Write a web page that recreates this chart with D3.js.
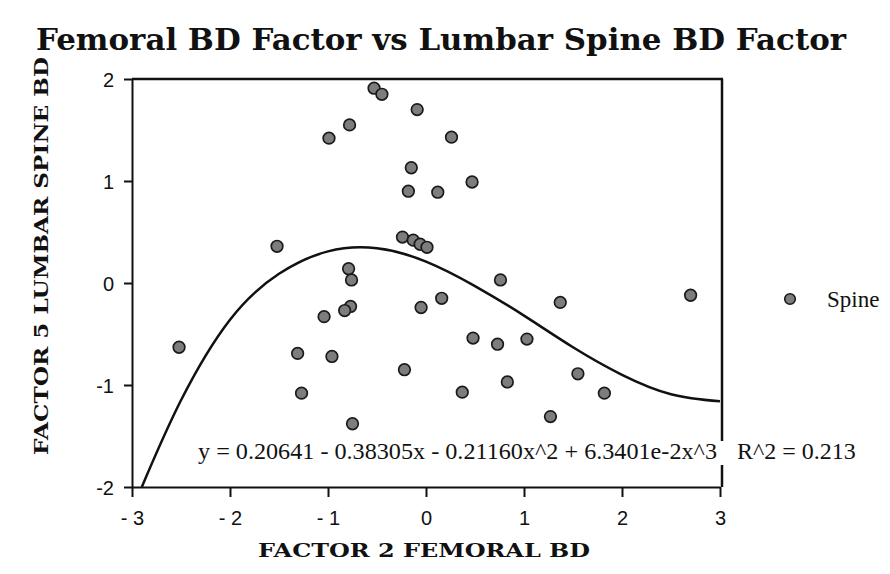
<!DOCTYPE html>
<html lang="en">
<head>
<meta charset="UTF-8">
<title>Femoral BD Factor vs Lumbar Spine BD Factor</title>
<script src="https://d3js.org/d3.v7.min.js"></script>
<style>
    body { margin: 0; background: #fff; }
    .tick text { font-family: "Liberation Sans", Arial, sans-serif; font-size: 20px; fill: #111; }
    .tick line, .domain { stroke: #111; stroke-width: 2; }
</style>
</head>
<body>
<script>
// scatter points: factor 2 femoral BD (x) vs factor 5 lumbar spine BD (y)
var femoral = [-0.53, -0.45, -0.09, -0.78, -0.99, 0.26, -0.15, -0.18, 0.12, 0.47,
    -1.52, -0.24, -0.13, -0.06, 0.01, -0.79, -0.76, 0.76, -0.77, -0.83,
    -1.04, -0.05, 0.16, 1.37, 2.70, -2.52, -1.31, -0.96, -0.22, -1.27,
    -0.75, 0.48, 0.73, 1.03, 0.37, 0.83, 1.55, 1.82, 1.27];
var spine = [1.91, 1.85, 1.70, 1.55, 1.42, 1.43, 1.13, 0.90, 0.89, 0.99,
    0.36, 0.45, 0.42, 0.38, 0.35, 0.14, 0.03, 0.03, -0.23, -0.27,
    -0.33, -0.24, -0.15, -0.19, -0.12, -0.63, -0.69, -0.72, -0.85, -1.08,
    -1.38, -0.54, -0.60, -0.55, -1.07, -0.97, -0.89, -1.08, -1.31];

// fitted curve
var fitX = [-2.9, -2.5, -2, -1.5, -1, -0.5, 0, 0.5, 1, 1.5, 2, 2.5, 3];
var fitY = [-2.0, -1.15, -0.36, 0.09, 0.31, 0.34, 0.21, -0.03, -0.32, -0.63, -0.90, -1.09, -1.16];

var xTicks = [-3, -2, -1, 0, 1, 2, 3];
var xTickLabels = ["- 3", "- 2", "- 1", "0", "1", "2", "3"];
var yTicks = [-2, -1, 0, 1, 2];
var yTickLabels = ["-2", "-1", "0", "1", "2"];

var equation = "y = 0.20641 - 0.38305x - 0.21160x^2 + 6.3401e-2x^3";
var rSquared = "R^2 = 0.213";

var width = 890, height = 574;
var plotLeft = 132, plotRight = 720, plotTop = 79, plotBottom = 487;

var svg = d3.select("body").append("svg")
    .attr("width", width)
    .attr("height", height);

var x = d3.scaleLinear().domain([-3, 3]).range([plotLeft, plotRight]);
var y = d3.scaleLinear().domain([-2, 2]).range([plotBottom, plotTop]);

// title
svg.append("text")
    .attr("x", 36).attr("y", 50)
    .attr("textLength", 810).attr("lengthAdjust", "spacingAndGlyphs")
    .style("font-family", "'DejaVu Serif', serif")
    .style("font-weight", "bold")
    .style("font-size", "29px")
    .style("fill", "#111")
    .text("Femoral BD Factor vs Lumbar Spine BD Factor");

// axis titles
svg.append("text")
    .attr("transform", "translate(48,256) rotate(-90)")
    .attr("text-anchor", "middle")
    .attr("textLength", 398).attr("lengthAdjust", "spacingAndGlyphs")
    .style("font-family", "'DejaVu Serif', serif")
    .style("font-weight", "bold")
    .style("font-size", "19px")
    .style("fill", "#111")
    .text("FACTOR 5 LUMBAR SPINE BD");

svg.append("text")
    .attr("x", 424).attr("y", 557)
    .attr("text-anchor", "middle")
    .attr("textLength", 332).attr("lengthAdjust", "spacingAndGlyphs")
    .style("font-family", "'DejaVu Serif', serif")
    .style("font-weight", "bold")
    .style("font-size", "19px")
    .style("fill", "#111")
    .text("FACTOR 2 FEMORAL BD");

// frame: top and right
svg.append("line")
    .attr("x1", plotLeft).attr("x2", plotRight + 3)
    .attr("y1", plotTop).attr("y2", plotTop)
    .style("stroke", "#111").style("stroke-width", 2.5);
svg.append("line")
    .attr("x1", plotRight + 2).attr("x2", plotRight + 2)
    .attr("y1", plotTop).attr("y2", plotBottom)
    .style("stroke", "#111").style("stroke-width", 2.5);

// axes
svg.append("g")
    .attr("transform", "translate(" + plotLeft + ",0)")
    .call(d3.axisLeft(y).tickValues(yTicks).tickSize(8).tickSizeOuter(0).tickPadding(10)
        .tickFormat(function (d, i) { return yTickLabels[i]; }))
    .selectAll(".tick text").attr("dy", "0.36em");

svg.append("g")
    .attr("transform", "translate(0," + plotBottom + ")")
    .call(d3.axisBottom(x).tickValues(xTicks).tickSize(10).tickSizeOuter(0).tickPadding(14)
        .tickFormat(function (d, i) { return xTickLabels[i]; }));

// fit curve
var line = d3.line()
    .x(function (d) { return x(d[0]); })
    .y(function (d) { return y(d[1]); })
    .curve(d3.curveNatural);

svg.append("path")
    .datum(fitX.map(function (v, i) { return [v, fitY[i]]; }))
    .attr("d", line)
    .style("fill", "none")
    .style("stroke", "#111")
    .style("stroke-width", 2.5);

// points
svg.selectAll("circle.pt")
    .data(femoral)
    .enter().append("circle")
    .attr("class", "pt")
    .attr("cx", function (d) { return x(d); })
    .attr("cy", function (d, i) { return y(spine[i]); })
    .attr("r", 5.8)
    .style("fill", "#7d7d7d")
    .style("stroke", "#1a1a1a")
    .style("stroke-width", 1.7);

// equation with white backing (breaks the right border)
var eq = svg.append("g");
var eqText = eq.append("text")
    .attr("x", 198).attr("y", 459)
    .attr("textLength", 519).attr("lengthAdjust", "spacingAndGlyphs")
    .style("font-family", "'Liberation Serif', 'Times New Roman', serif")
    .style("font-size", "24px")
    .style("fill", "#111")
    .text(equation);
var bb = eqText.node().getBBox();
eq.insert("rect", "text")
    .attr("x", bb.x + bb.width - 2).attr("y", bb.y + 3)
    .attr("width", 12).attr("height", bb.height - 2)
    .style("fill", "#fff");

svg.append("text")
    .attr("x", 737).attr("y", 459)
    .style("font-family", "'Liberation Serif', 'Times New Roman', serif")
    .style("font-size", "24px")
    .style("fill", "#111")
    .text(rSquared);

// legend
svg.append("circle")
    .attr("cx", 790).attr("cy", 299).attr("r", 5.3)
    .style("fill", "#7d7d7d")
    .style("stroke", "#1a1a1a")
    .style("stroke-width", 1.6);
svg.append("text")
    .attr("x", 827).attr("y", 307)
    .style("font-family", "'Liberation Serif', 'Times New Roman', serif")
    .style("font-size", "23px")
    .style("fill", "#111")
    .text("Spine");
</script>
</body>
</html>
